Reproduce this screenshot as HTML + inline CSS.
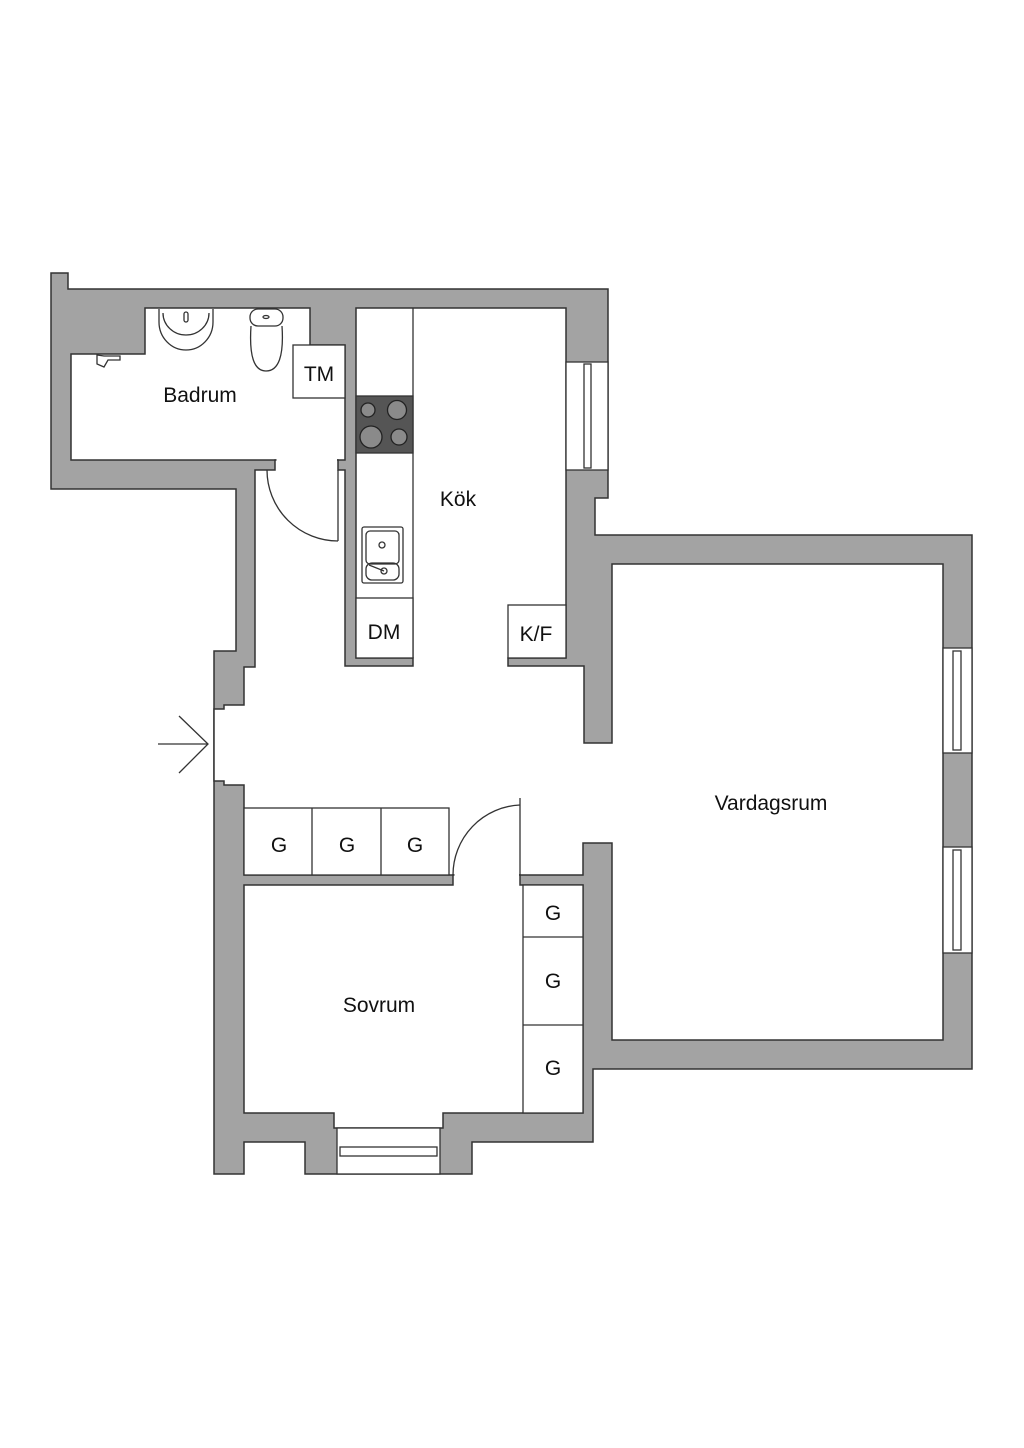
<!DOCTYPE html>
<html><head><meta charset="utf-8"><style>
html,body{margin:0;padding:0;background:#fff;}
svg{display:block;}
text{font-family:"Liberation Sans",sans-serif;font-size:21px;fill:#111;text-anchor:middle;}
</style></head><body>
<svg width="1024" height="1448" viewBox="0 0 1024 1448" xmlns="http://www.w3.org/2000/svg">
<rect width="1024" height="1448" fill="#fff"/>
<g stroke="#333" stroke-width="1.5" stroke-linejoin="miter">
<!-- outer mass -->
<polygon fill="#a3a3a3" points="51,273 68,273 68,289 608,289 608,498 595,498 595,535 972,535 972,1069 593,1069 593,1142 472,1142 472,1174 305,1174 305,1142 244,1142 244,1174 214,1174 214,651 236,651 236,489 51,489"/>
<!-- bathroom -->
<polygon fill="#fff" points="71,354 145,354 145,308 310,308 310,345 345,345 345,460 71,460"/>
<!-- hall + kitchen + living -->
<polygon fill="#fff" points="255,470 275,470 275,460 338,460 338,470 345,470 345,666 413,666 413,658 356,658 356,308 566,308 566,658 508,658 508,666 584,666 584,743 612,743 612,564 943,564 943,1040 612,1040 612,843 583,843 583,875 244,875 244,785 224,785 224,781 214,781 214,709 224,709 224,705 244,705 244,667 255,667"/>
<!-- bedroom -->
<polygon fill="#fff" points="244,885 453,885 453,875 520,875 520,885 583,885 583,1113 443,1113 443,1128 334,1128 334,1113 244,1113"/>
</g>
<!-- erase lines in openings -->
<rect x="276.5" y="457" width="60.5" height="15" fill="#fff"/>
<rect x="454.5" y="872" width="64.5" height="15" fill="#fff"/>
<g stroke="#333" stroke-width="1.3" fill="none">
<!-- windows -->
<rect x="566" y="362" width="42" height="108" fill="#fff"/>
<rect x="584" y="364" width="7" height="104"/>
<rect x="943" y="648" width="29" height="105" fill="#fff"/>
<rect x="953" y="651" width="8" height="99"/>
<rect x="943" y="847" width="29" height="106" fill="#fff"/>
<rect x="953" y="850" width="8" height="100"/>
<rect x="337" y="1128" width="103" height="46" fill="#fff"/>
<rect x="340" y="1147" width="97" height="9"/>
<!-- kitchen counter -->
<line x1="413" y1="308" x2="413" y2="658"/>
<rect x="356" y="598" width="57" height="60" fill="#fff"/>
<rect x="508" y="605" width="58" height="53" fill="#fff"/>
<rect x="293" y="345" width="52" height="53" fill="#fff"/>
<!-- hob -->
<rect x="356" y="396" width="57" height="57" fill="#555"/>
<circle cx="368" cy="410" r="7" fill="#8a8a8a" stroke="#222"/>
<circle cx="397" cy="410" r="9.5" fill="#8a8a8a" stroke="#222"/>
<circle cx="371" cy="437" r="11" fill="#8a8a8a" stroke="#222"/>
<circle cx="399" cy="437" r="8" fill="#8a8a8a" stroke="#222"/>
<!-- sink -->
<rect x="362" y="527" width="41" height="56" rx="2" fill="#fff"/>
<rect x="366" y="531" width="33" height="33" rx="4"/>
<rect x="366" y="563" width="33" height="17" rx="6"/>
<circle cx="382" cy="545" r="3"/>
<circle cx="384" cy="571" r="3"/>
<line x1="369" y1="565" x2="384" y2="571"/>
<!-- doors -->
<line x1="338" y1="470" x2="338" y2="541"/>
<path d="M267,470 A71,71 0 0 0 338,541"/>
<line x1="520" y1="798" x2="520" y2="875"/>
<path d="M520,805 A70,70 0 0 0 453,875"/>
<!-- wardrobes -->
<rect x="244" y="808" width="205" height="67" fill="#fff"/>
<line x1="312" y1="808" x2="312" y2="875"/>
<line x1="381" y1="808" x2="381" y2="875"/>
<rect x="523" y="885" width="60" height="228" fill="#fff"/>
<line x1="523" y1="937" x2="583" y2="937"/>
<line x1="523" y1="1025" x2="583" y2="1025"/>
<!-- bath fixtures -->
<path d="M159,309 L159,322 A27,28 0 0 0 213,322 L213,309"/>
<path d="M163,313 A23,22 0 0 0 209,313"/>
<rect x="184" y="312" width="4" height="10" rx="2"/>
<rect x="250" y="309" width="33" height="17" rx="8" fill="#fff"/>
<path d="M251,326 Q248,371 266,371 Q285,371 282,326"/>
<ellipse cx="266" cy="317" rx="3" ry="1.5"/>
<path d="M97,355 L97,364 L104,367 L108,360 L120,360 L120,356 L104,356 Z"/>
<!-- entrance arrow -->
<line x1="158" y1="744" x2="208" y2="744"/>
<polyline points="179,716 208,744 179,773"/>
</g>
<text x="200" y="402">Badrum</text>
<text x="319" y="381">TM</text>
<text x="458" y="506">Kök</text>
<text x="384" y="639">DM</text>
<text x="536" y="641">K/F</text>
<text x="771" y="810">Vardagsrum</text>
<text x="379" y="1012">Sovrum</text>
<text x="279" y="852">G</text>
<text x="347" y="852">G</text>
<text x="415" y="852">G</text>
<text x="553" y="920">G</text>
<text x="553" y="988">G</text>
<text x="553" y="1075">G</text>
</svg>
</body></html>
